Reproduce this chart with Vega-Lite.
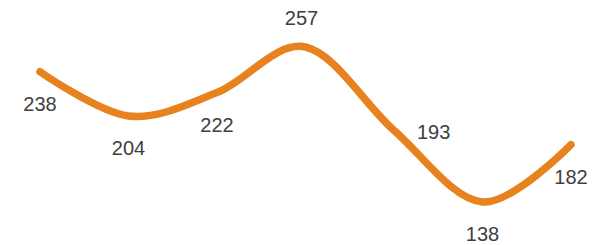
{
  "$schema": "https://vega.github.io/schema/vega-lite/v6.json",
  "width": 609,
  "height": 245,
  "padding": 0,
  "autosize": {"type": "none"},
  "background": "white",
  "config": {"view": {"stroke": null}},
  "data": {"values": [
    {"i": 1, "v": 238, "side": "below"},
    {"i": 2, "v": 204, "side": "below"},
    {"i": 3, "v": 222, "side": "below"},
    {"i": 4, "v": 257, "side": "above"},
    {"i": 5, "v": 193, "side": "right"},
    {"i": 6, "v": 138, "side": "below"},
    {"i": 7, "v": 182, "side": "below"}
  ]},
  "encoding": {
    "x": {"field": "i", "type": "quantitative", "scale": {"domain": [1, 7], "range": [40, 571]}, "axis": null},
    "y": {"field": "v", "type": "quantitative", "scale": {"domain": [138, 257], "range": [202, 47]}, "axis": null}
  },
  "layer": [
    {"mark": {"type": "line", "interpolate": "cardinal", "color": "#E8821E", "strokeWidth": 7.5, "strokeCap": "round", "strokeJoin": "round"}},
    {"transform": [{"filter": "datum.side === 'below'"}],
     "mark": {"type": "text", "dy": 33, "baseline": "middle", "align": "center", "font": "Liberation Sans", "fontSize": 20, "color": "#404040"},
     "encoding": {"text": {"field": "v", "type": "quantitative"}}},
    {"transform": [{"filter": "datum.side === 'above'"}],
     "mark": {"type": "text", "dy": -28, "dx": -4, "baseline": "middle", "align": "center", "font": "Liberation Sans", "fontSize": 20, "color": "#404040"},
     "encoding": {"text": {"field": "v", "type": "quantitative"}}},
    {"transform": [{"filter": "datum.side === 'right'"}],
     "mark": {"type": "text", "dy": 3, "dx": 23, "baseline": "middle", "align": "left", "font": "Liberation Sans", "fontSize": 20, "color": "#404040"},
     "encoding": {"text": {"field": "v", "type": "quantitative"}}}
  ]
}
